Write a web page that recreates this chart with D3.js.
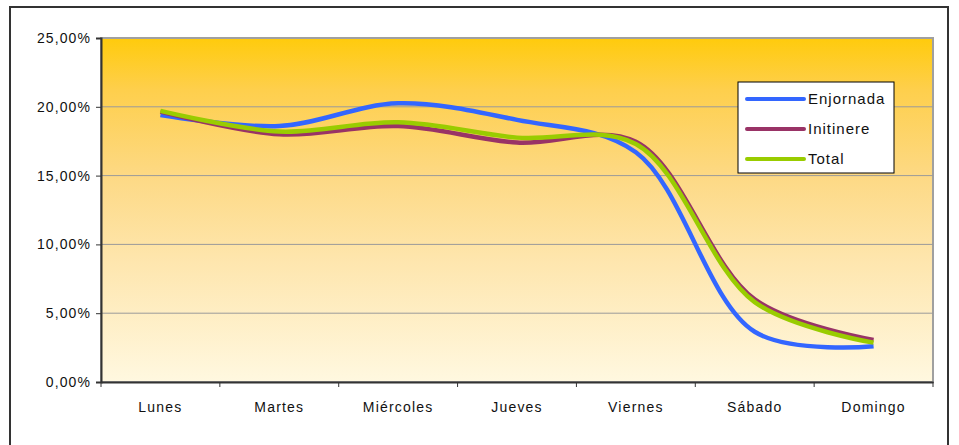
<!DOCTYPE html>
<html>
<head>
<meta charset="utf-8">
<script src="https://cdn.jsdelivr.net/npm/d3@7"></script>
<style>
  body { margin: 0; background: #fff; }
  svg { display: block; font-family: "Liberation Sans", Arial, sans-serif; }
</style>
</head>
<body>
<div id="chart"></div>
<script>
// días de la semana
const days = ["Lunes", "Martes", "Miércoles", "Jueves", "Viernes", "Sábado", "Domingo"];
// porcentaje de accidentes por día
const enjornada = [19.4, 18.6, 20.25, 19.05, 16.7, 3.65, 2.6];
const initinere = [19.65, 18.0, 18.6, 17.4, 17.45, 6.0, 3.05];
const total = [19.7, 18.2, 18.87, 17.76, 17.3, 5.8, 2.86];
const yTicks = [0, 5, 10, 15, 20, 25];
const seriesNames = ["Enjornada", "Initinere", "Total"];

const w = 959, h = 445;
const margin = {left: 101, right: 26, top: 38, bottom: 63};
const colors = {"Enjornada": "#3366ff", "Initinere": "#993366", "Total": "#99cc00"};

let svg = d3.select("#chart").append("svg").attr("width", w).attr("height", h);

// borde exterior
svg.append("rect")
  .attr("x", 10).attr("y", 7)
  .attr("width", 938).attr("height", 450)
  .attr("fill", "none").attr("stroke", "#333").attr("stroke-width", 2);

let x = d3.scaleBand().domain(days).range([margin.left, w - margin.right]);
let y = d3.scaleLinear().domain([0, 25]).range([h - margin.bottom, margin.top]);

let grad = svg.append("defs").append("linearGradient")
  .attr("id", "bg").attr("x1", 0).attr("y1", 0).attr("x2", 0).attr("y2", 1);
[[0, "#ffcb0c"], [0.15, "#fecf4c"], [0.4, "#fdd984"], [0.65, "#fee6ae"], [1, "#fff8e0"]]
  .forEach(s => grad.append("stop").attr("offset", s[0]).attr("stop-color", s[1]));

svg.append("rect")
  .attr("x", margin.left).attr("y", margin.top)
  .attr("width", w - margin.right - margin.left)
  .attr("height", h - margin.bottom - margin.top)
  .attr("fill", "url(#bg)")
  .attr("stroke", "#a0a0a0").attr("stroke-width", 2);

// líneas de cuadrícula
svg.append("g").selectAll("line")
  .data(yTicks.filter(d => d > 0 && d < 25)).enter()
  .append("line")
  .attr("x1", margin.left).attr("x2", w - margin.right)
  .attr("y1", d => y(d)).attr("y2", d => y(d))
  .attr("stroke", "#9a9a9a").attr("stroke-width", 1);

let loc = d3.formatLocale({decimal: ",", thousands: ".", grouping: [3], currency: ["", "€"]});
let fmt = loc.format(".2f");

let yAxis = svg.append("g")
  .attr("transform", `translate(${margin.left},0)`)
  .call(d3.axisLeft(y).tickValues(yTicks).tickSize(5).tickPadding(5).tickFormat(d => fmt(d) + "%"));
yAxis.select(".domain").attr("stroke", "#333").attr("stroke-width", 2);
yAxis.selectAll(".tick line").attr("stroke", "#333");
yAxis.selectAll("text")
  .attr("fill", "#111").style("font-size", "14px").style("letter-spacing", "1.1px")
  .attr("font-family", null);

let xAxis = svg.append("g")
  .attr("transform", `translate(0,${h - margin.bottom})`)
  .call(d3.axisBottom(x).tickSize(0).tickPadding(20));
xAxis.select(".domain").attr("stroke", "#333").attr("stroke-width", 2);
xAxis.selectAll("text")
  .attr("fill", "#111").style("font-size", "14px").style("letter-spacing", "1.2px")
  .attr("font-family", null);

// marcas entre categorías
xAxis.append("g").selectAll("line")
  .data(days.map(d => x(d)).concat([w - margin.right])).enter()
  .append("line")
  .attr("x1", d => d).attr("x2", d => d)
  .attr("y1", 0).attr("y2", 5)
  .attr("stroke", "#333");

let line = d3.line()
  .x((d, i) => x(days[i]) + x.bandwidth() / 2)
  .y(d => y(d))
  .curve(d3.curveCatmullRom.alpha(0.5));

let series = [enjornada, initinere, total];
series.forEach((s, i) => {
  svg.append("path")
    .datum(s)
    .attr("fill", "none")
    .attr("stroke", colors[seriesNames[i]])
    .attr("stroke-width", 4.5)
    .attr("stroke-linejoin", "round")
    .attr("d", line);
});

// leyenda
let legend = svg.append("g").attr("transform", "translate(738,82)");
legend.append("rect")
  .attr("width", 156).attr("height", 91)
  .attr("fill", "#fff").attr("stroke", "#000").attr("stroke-width", 1);
let items = legend.selectAll(".legend")
  .data(seriesNames).enter()
  .append("g").attr("class", "legend")
  .attr("transform", (d, i) => `translate(0,${17 + i * 30})`);
items.append("line")
  .attr("x1", 9).attr("x2", 66)
  .attr("stroke", d => colors[d])
  .attr("stroke-width", 4)
  .attr("stroke-linecap", "round");
items.append("text")
  .attr("x", 70).attr("dy", "0.36em")
  .style("font-size", "15px").style("letter-spacing", "1px")
  .attr("fill", "#111")
  .text(d => d);
</script>
</body>
</html>
